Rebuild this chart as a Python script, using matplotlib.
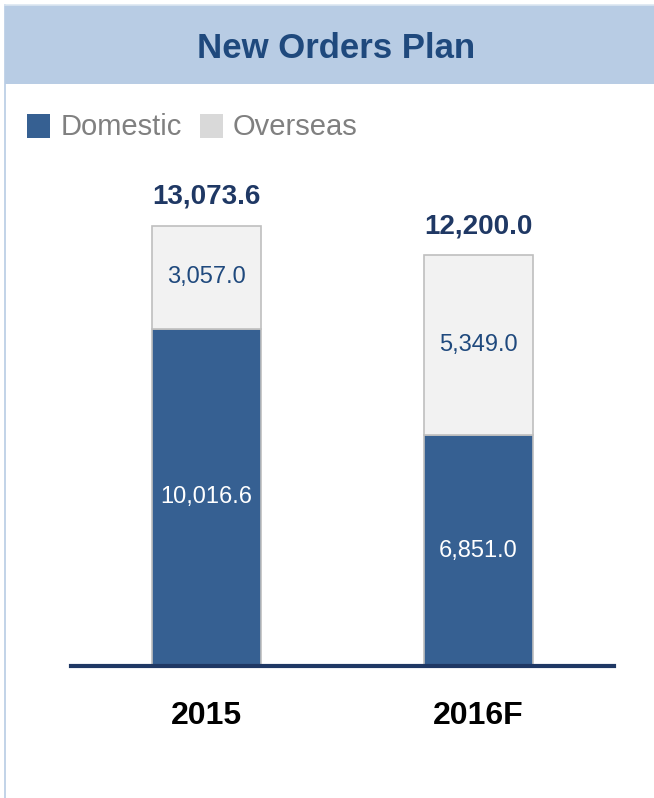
import matplotlib
matplotlib.use("Agg")
import matplotlib.pyplot as plt
from matplotlib.patches import Rectangle
from matplotlib.lines import Line2D

# Data
years = ["2015", "2016F"]
domestic = [10016.6, 6851.0]
overseas = [3057.0, 5349.0]
totals = [13073.6, 12200.0]

DOMESTIC_COLOR = "#366092"
OVERSEAS_COLOR = "#F2F2F2"
EDGE_COLOR = "#BFBFBF"
NAVY = "#1F3864"
TITLE_COLOR = "#1F497D"
HEADER_BG = "#B8CCE4"
FONT = "Liberation Sans"

W, H = 654, 798
fig = plt.figure(figsize=(W / 100, H / 100), dpi=100)


def px(x, y):
    # piksele (od lewego górnego rogu) -> współrzędne figury
    return x / W, 1 - y / H


# pasek nagłówka i ramka
x0, y0 = px(5, 84)
fig.patches.append(Rectangle((x0, y0), 1 - x0, 79 / H, transform=fig.transFigure,
                             facecolor=HEADER_BG, edgecolor="none", zorder=0))
fig.lines.append(Line2D([5 / W, 5 / W], [0, 1 - 5 / H], transform=fig.transFigure,
                        color=HEADER_BG, lw=1.2))
fig.lines.append(Line2D([5 / W, 1], [1 - 5 / H, 1 - 5 / H], transform=fig.transFigure,
                        color="#DCE6F1", lw=1.2))

tx, ty = px(336, 48)
fig.text(tx, ty, "New Orders Plan", family=FONT, fontweight="bold", fontsize=25,
         color=TITLE_COLOR, ha="center", va="center")

# legenda
for lx, col, label, tx_ in [(27, DOMESTIC_COLOR, "Domestic", 61), (200, "#D9D9D9", "Overseas", 233)]:
    rx, ry = px(lx, 138)
    fig.patches.append(Rectangle((rx, ry), 23 / W, 24 / H, transform=fig.transFigure,
                                 facecolor=col, edgecolor="none"))
    fx, fy = px(tx_, 127)
    fig.text(fx, fy, label, family=FONT, fontsize=21, color="#808080",
             ha="left", va="center")

# osie
left, bottom = px(71, 666)
ax_w = (614 - 71) / W
ax_h = (666 - 160) / H
ax = fig.add_axes([left, bottom, ax_w, ax_h])
ymax = 13073.6 * (666 - 160) / (666 - 226)
ax.set_ylim(0, ymax)
ax.set_xlim(-0.5, 1.5)

xs = list(range(len(years)))
bw = 0.40
ax.bar(xs, domestic, width=bw, color=DOMESTIC_COLOR, edgecolor=EDGE_COLOR, linewidth=1.2, zorder=2)
ax.bar(xs, overseas, width=bw, bottom=domestic, color=OVERSEAS_COLOR, edgecolor=EDGE_COLOR,
       linewidth=1.2, zorder=2)

for x, d, o, t in zip(xs, domestic, overseas, totals):
    ax.text(x, d / 2, f"{d:,.1f}", ha="center", va="center", family=FONT,
            fontsize=17, color="white", zorder=3)
    ax.text(x, d + o / 2, f"{o:,.1f}", ha="center", va="center", family=FONT,
            fontsize=17, color=TITLE_COLOR, zorder=3)
    ax.annotate(f"{t:,.1f}", (x, t), xytext=(0, 16), textcoords="offset points",
                ha="center", va="baseline", family=FONT, fontweight="bold",
                fontsize=20, color=NAVY)

ax.set_xticks(xs)
ax.set_xticklabels(years, family=FONT, fontweight="bold", fontsize=23, color="black")
ax.tick_params(axis="x", length=0, pad=25)
ax.set_yticks([])
for s in ["top", "left", "right"]:
    ax.spines[s].set_visible(False)
ax.spines["bottom"].set_color(NAVY)
ax.spines["bottom"].set_linewidth(3)
ax.spines["bottom"].set_zorder(4)
ax.patch.set_alpha(0)

fig.savefig("out.png", dpi=100)
